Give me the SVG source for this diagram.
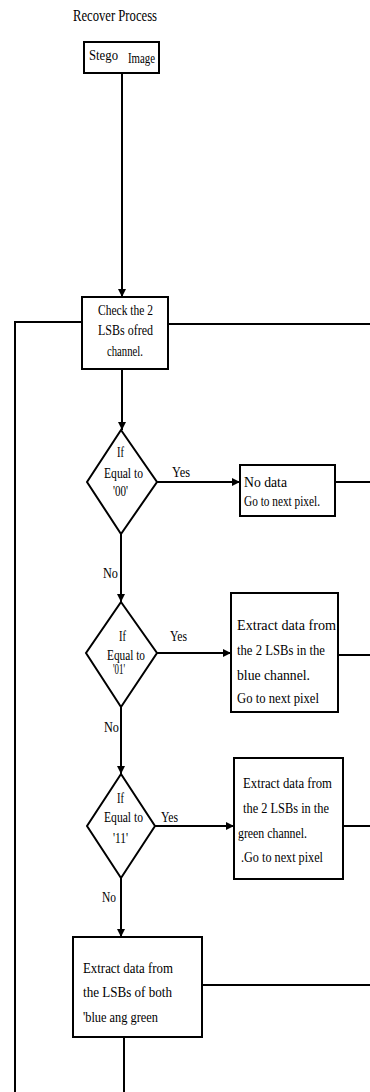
<svg xmlns="http://www.w3.org/2000/svg" width="370" height="1092" viewBox="0 0 370 1092">
<style>
.t{font-family:"Liberation Serif","Times New Roman",serif;font-size:15px;fill:#000}
.b{fill:#fff;stroke:#000;stroke-width:2}
.c{fill:none;stroke:#000;stroke-width:2}
</style>
<defs>
<marker id="ah" viewBox="0 0 10 10" refX="10" refY="5" markerWidth="4" markerHeight="4" orient="auto" markerUnits="strokeWidth">
<path d="M0,0 L10,5 L0,10 z" fill="#000"/>
</marker>
</defs>
<rect width="370" height="1092" fill="#fff"/>
<text class="t" x="73" y="21" textLength="84" lengthAdjust="spacingAndGlyphs" style="font-size:16px">Recover Process</text>
<g id="connectors">
<path class="c" d="M122,73 V297" marker-end="url(#ah)"/>
<path class="c" d="M122,369 V430" marker-end="url(#ah)"/>
<path class="c" d="M157,482 H240" marker-end="url(#ah)"/>
<path class="c" d="M121,534 V602" marker-end="url(#ah)"/>
<path class="c" d="M157,653 H231" marker-end="url(#ah)"/>
<path class="c" d="M121,707 V774" marker-end="url(#ah)"/>
<path class="c" d="M155,826 H234" marker-end="url(#ah)"/>
<path class="c" d="M121,878 V937" marker-end="url(#ah)"/>
<path class="c" d="M168,324 H370"/>
<path class="c" d="M335,482 H370"/>
<path class="c" d="M338,655 H370"/>
<path class="c" d="M343,826 H370"/>
<path class="c" d="M202,985 H370"/>
<path class="c" d="M124,1037 V1092"/>
<path class="c" d="M82,322 H15 V1092"/>
<text class="t" x="172" y="477" textLength="18" lengthAdjust="spacingAndGlyphs">Yes</text>
<text class="t" x="170" y="641" textLength="17" lengthAdjust="spacingAndGlyphs">Yes</text>
<text class="t" x="161" y="822" textLength="17" lengthAdjust="spacingAndGlyphs">Yes</text>
<text class="t" x="103" y="578" textLength="15" lengthAdjust="spacingAndGlyphs">No</text>
<text class="t" x="104" y="732" textLength="15" lengthAdjust="spacingAndGlyphs">No</text>
<text class="t" x="102" y="902" textLength="14" lengthAdjust="spacingAndGlyphs">No</text>
</g>
<g id="stego">
<rect class="b" x="84" y="42" width="75" height="31"/>
<text class="t" x="89" y="60" textLength="29" lengthAdjust="spacingAndGlyphs">Stego</text>
<text class="t" x="128" y="63" textLength="27" lengthAdjust="spacingAndGlyphs">Image</text>
</g>
<g id="check">
<rect class="b" x="82" y="297" width="86" height="72"/>
<text class="t" x="98" y="315" textLength="55" lengthAdjust="spacingAndGlyphs">Check the 2</text>
<text class="t" x="98" y="335" textLength="55" lengthAdjust="spacingAndGlyphs">LSBs ofred</text>
<text class="t" x="107" y="356" textLength="36" lengthAdjust="spacingAndGlyphs">channel.</text>
</g>
<g id="d00">
<path class="b" d="M121,430 L157,482 L121,534 L87,482 Z"/>
<text class="t" x="117" y="457" textLength="7" lengthAdjust="spacingAndGlyphs">If</text>
<text class="t" x="104" y="478" textLength="39" lengthAdjust="spacingAndGlyphs">Equal to</text>
<text class="t" x="113" y="496" textLength="15" lengthAdjust="spacingAndGlyphs">'00'</text>
</g>
<g id="nodata">
<rect class="b" x="240" y="465" width="95" height="51"/>
<text class="t" x="244" y="487" textLength="43" lengthAdjust="spacingAndGlyphs">No  data</text>
<text class="t" x="244" y="506" textLength="76" lengthAdjust="spacingAndGlyphs">Go to next pixel.</text>
</g>
<g id="d01">
<path class="b" d="M121,602 L157,653 L121,707 L86,653 Z"/>
<text class="t" x="119" y="641" textLength="7" lengthAdjust="spacingAndGlyphs">If</text>
<text class="t" x="107" y="660" textLength="38" lengthAdjust="spacingAndGlyphs">Equal to</text>
<text class="t" x="113" y="674" textLength="12" lengthAdjust="spacingAndGlyphs">'01'</text>
</g>
<g id="blue">
<rect class="b" x="231" y="593" width="107" height="119"/>
<text class="t" x="237" y="630" textLength="99" lengthAdjust="spacingAndGlyphs">Extract data from</text>
<text class="t" x="237" y="655" textLength="88" lengthAdjust="spacingAndGlyphs">the 2 LSBs in the</text>
<text class="t" x="237" y="680" textLength="73" lengthAdjust="spacingAndGlyphs">blue channel.</text>
<text class="t" x="237" y="703" textLength="82" lengthAdjust="spacingAndGlyphs">Go to next pixel</text>
</g>
<g id="d11">
<path class="b" d="M121,774 L155,826 L121,878 L87,826 Z"/>
<text class="t" x="117" y="803" textLength="7" lengthAdjust="spacingAndGlyphs">If</text>
<text class="t" x="104" y="822" textLength="39" lengthAdjust="spacingAndGlyphs">Equal to</text>
<text class="t" x="113" y="843" textLength="15" lengthAdjust="spacingAndGlyphs">'11'</text>
</g>
<g id="green">
<rect class="b" x="234" y="758" width="109" height="121"/>
<text class="t" x="243" y="788" textLength="89" lengthAdjust="spacingAndGlyphs">Extract data from</text>
<text class="t" x="243" y="813" textLength="86" lengthAdjust="spacingAndGlyphs">the 2 LSBs in the</text>
<text class="t" x="238" y="838" textLength="69" lengthAdjust="spacingAndGlyphs">green channel.</text>
<text class="t" x="241" y="862" textLength="82" lengthAdjust="spacingAndGlyphs">.Go to next pixel</text>
</g>
<g id="both">
<rect class="b" x="73" y="937" width="129" height="100"/>
<text class="t" x="83" y="973" textLength="90" lengthAdjust="spacingAndGlyphs">Extract data from</text>
<text class="t" x="83" y="997" textLength="89" lengthAdjust="spacingAndGlyphs">the LSBs of both</text>
<text class="t" x="83" y="1022" textLength="75" lengthAdjust="spacingAndGlyphs">'blue ang green</text>
</g>
</svg>
